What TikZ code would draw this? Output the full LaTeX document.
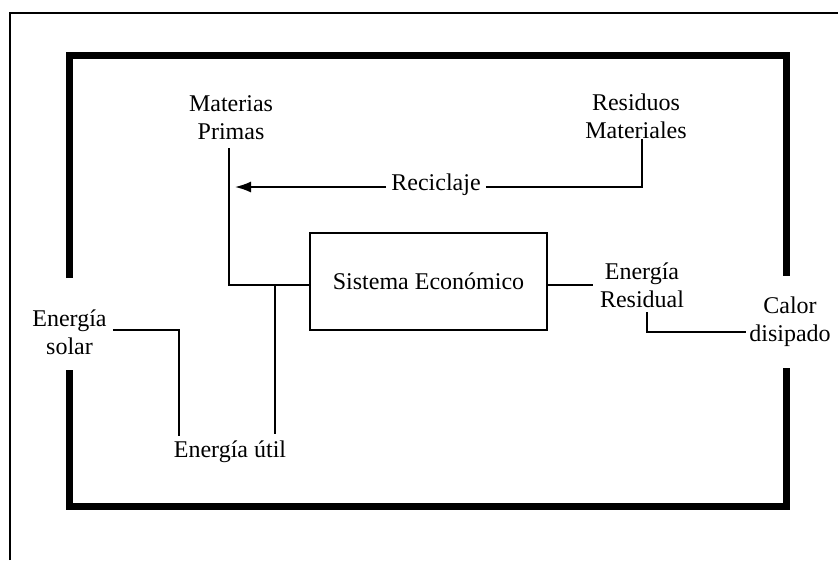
\documentclass[tikz,border=0pt]{standalone}
\usepackage{fontspec}
\setmainfont{Liberation Serif}
\usetikzlibrary{arrows.meta}
\begin{document}
\begin{tikzpicture}[x=1pt,y=-1pt,
  lbl/.style={align=center,inner sep=0pt,font=\fontsize{24}{28}\selectfont},
  flow/.style={line width=1.7pt},
  wall/.style={line width=6.5pt},
  sysbox/.style={draw,line width=2pt,minimum width=237pt,minimum height=97pt,
    inner sep=0pt,font=\fontsize{24}{28}\selectfont}]
\useasboundingbox (0,0) rectangle (838,560);
% page rule on the top and left
\draw[line width=2pt] (10,560) -- (10,13) -- (838,13);
% environment boundary with openings on both sides
\draw[wall] (69.7,278) -- (69.7,55.7) -- (786.7,55.7) -- (786.7,276);
\draw[wall] (69.7,370) -- (69.7,506.3) -- (786.7,506.3) -- (786.7,368);
% economic system
\node[sysbox] (sis) at (428.5,281.5) {Sistema Económico};
% labels
\node[lbl] (mp) at (231,117.5) {Materias\\Primas};
\node[lbl] (rm) at (636,116) {Residuos\\Materiales};
\node[lbl,inner xsep=5pt] (rec) at (436,185) {Reciclaje};
\node[lbl,inner xsep=7pt] (er) at (642,285) {Energía\\Residual};
\node[lbl] (cd) at (790,322) {Calor\\disipado};
\node[lbl,inner xsep=6pt] (es) at (69.5,332) {Energía\\solar};
\node[lbl] (eu) at (230,452) {Energía útil};
% connection points
\coordinate (mptop) at (229,148);
\coordinate (sisin) at (310,285);
\coordinate (join) at (275,285);
\coordinate (eutop) at (275,434);
\coordinate (esfoot) at (179,436);
\coordinate (rectip) at (235,187);
\coordinate (rmfoot) at (642,139);
\coordinate (sisout) at (547,285);
\coordinate (erfoot) at (647,312);
\coordinate (cdin) at (746,332);
% flows
\draw[flow] (mptop) |- (sisin);
\draw[flow] (join) -- (eutop);
\draw[flow] (es.east |- 0,330) -| (esfoot);
\draw[flow,-{Latex[length=16pt,width=11pt]}] (rec.west |- rectip) -- (rectip);
\draw[flow] (rec.east |- rectip) -| (rmfoot);
\draw[flow] (sisout) -- (er.west);
\draw[flow] (erfoot) |- (cdin);
\end{tikzpicture}
\end{document}
